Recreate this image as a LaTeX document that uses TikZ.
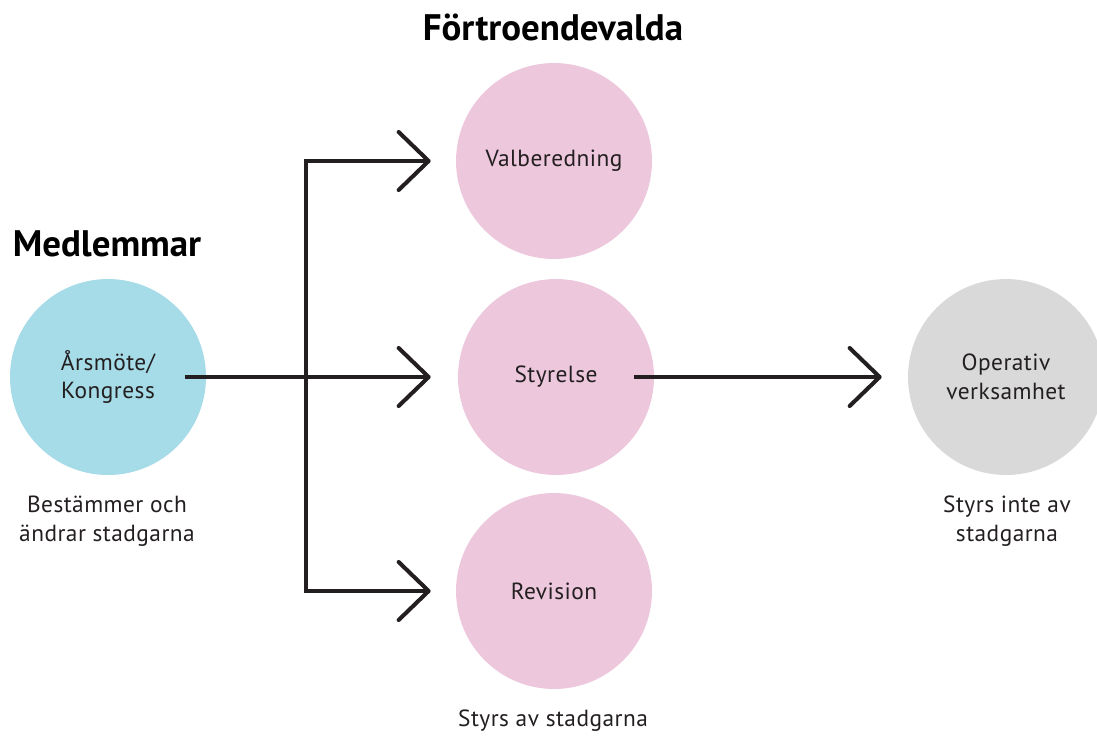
\documentclass[tikz,border=0pt]{standalone}
\usepackage{fontspec}
\setmainfont{PT Sans}
\usepackage{xcolor}
\usetikzlibrary{arrows.meta}
\definecolor{medlemblue}{HTML}{A6DBE8}
\definecolor{valdpink}{HTML}{EDC7DC}
\definecolor{opgray}{HTML}{D9D9D9}
\definecolor{linjesvart}{HTML}{231F20}
\begin{document}
\begin{tikzpicture}[x=0.02cm, y=-0.02cm,
  cirkel/.style={circle, minimum size=3.92cm, inner sep=0pt, align=center,
    font=\fontsize{13.3}{16.4}\selectfont\addfontfeatures{LetterSpace=2}, text=linjesvart},
  medlem/.style={cirkel, fill=medlemblue},
  vald/.style={cirkel, fill=valdpink},
  ovrig/.style={cirkel, fill=opgray},
  rubrik/.style={font=\bfseries\fontsize{21}{25}\selectfont, text=black},
  notis/.style={align=center, font=\fontsize{13.3}{16.4}\selectfont\addfontfeatures{LetterSpace=2}, text=linjesvart},
  linje/.style={draw=linjesvart, line width=2.3pt},
  pil/.style={-{Straight Barb[length=6mm, width=11.6mm, round]}}]
  \useasboundingbox (0,0) rectangle (1097,735);
  \node[rubrik] (forttitel) at (553,27) {Förtroendevalda};
  \node[rubrik] (medtitel) at (107,244) {Medlemmar};
  \node[medlem] (arsmote) at (108,377) {Årsmöte/\\Kongress};
  \node[vald] (valb) at (554,161) {Valberedning};
  \node[vald] (styr) at (556,377) {Styrelse};
  \node[vald] (rev) at (554,591) {Revision};
  \node[ovrig] (oper) at (1006,377) {Operativ\\verksamhet};
  \node[notis] (bestammer) at (107,521) {Bestämmer och\\ändrar stadgarna};
  \node[notis] (styrsinte) at (1007,521) {Styrs inte av\\stadgarna};
  \node[notis] (styrsav) at (553,721) {Styrs av stadgarna};
  \coordinate (gren) at (306,377);
  \draw[linje, pil, shorten <=15.4mm, shorten >=5.4mm] (arsmote.center) -- (styr);
  \draw[linje, {Straight Barb[length=6mm, width=11.6mm, round]}-{Straight Barb[length=6mm, width=11.6mm, round]}, shorten <=5mm, shorten >=5mm] (valb) -| (gren) |- (rev);
  \draw[linje, pil, shorten <=15.6mm, shorten >=5.2mm] (styr.center) -- (oper);
\end{tikzpicture}
\end{document}
